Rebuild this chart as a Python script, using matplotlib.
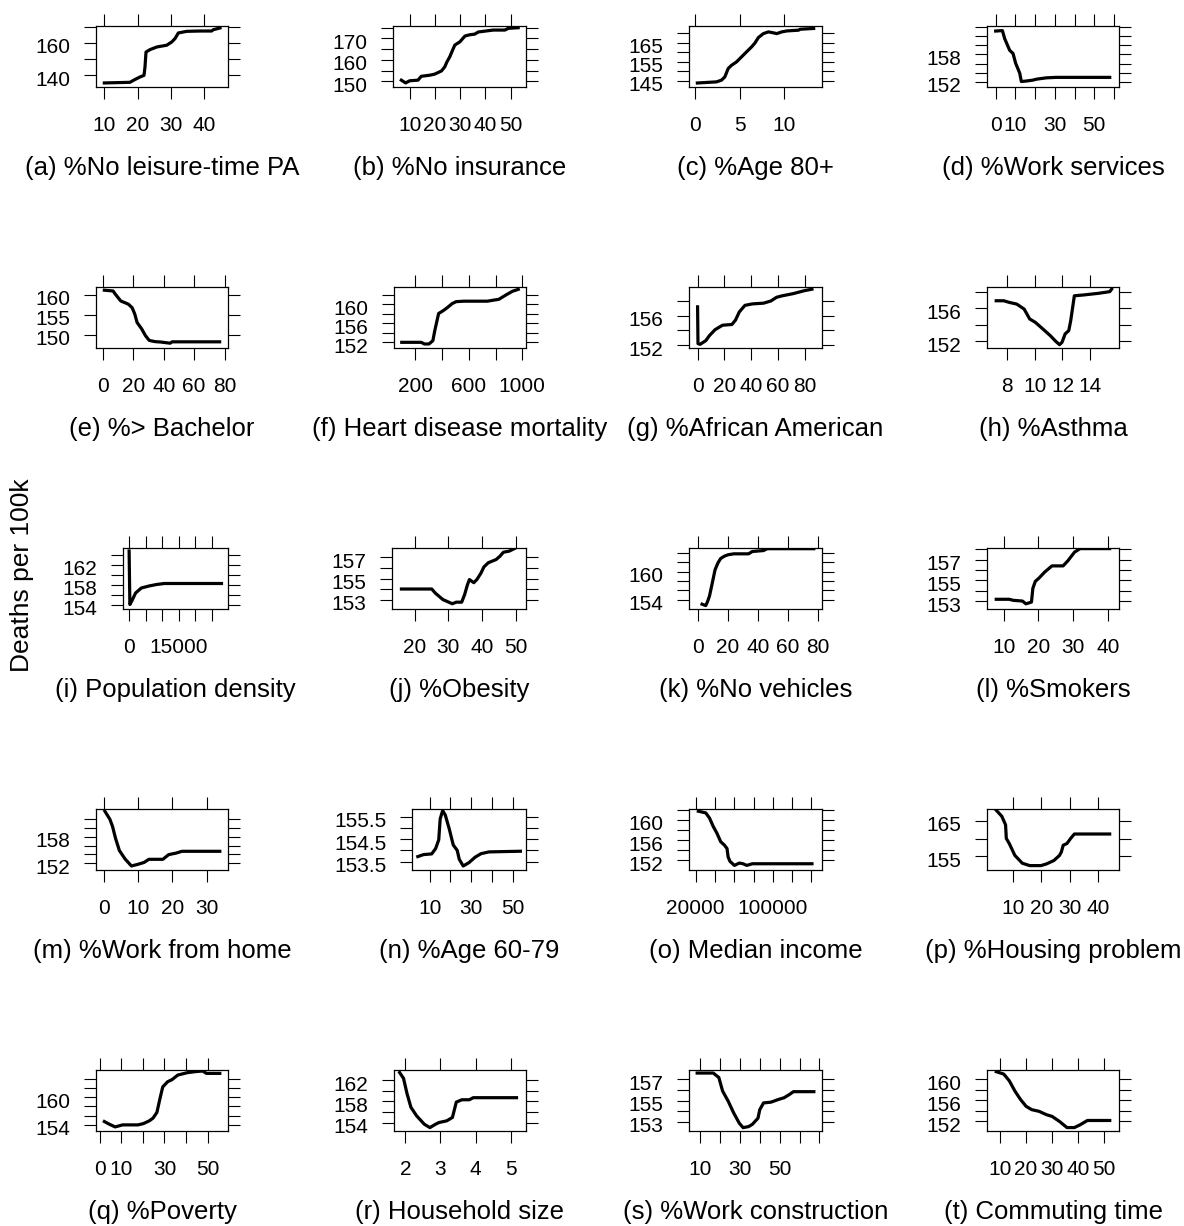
"""
Partial dependence curves (deaths per 100k) for 20 county-level predictors.
R base-graphics look: box, outward ticks on all four sides, labels left and bottom.
"""

import matplotlib
matplotlib.use("Agg")
import matplotlib.pyplot as plt
from matplotlib.transforms import ScaledTranslation

plt.rcParams["font.family"] = ["Liberation Sans", "DejaVu Sans"]

# ---------------------------------------------------------------- data
titles = [
    "(a) %No leisure-time PA", "(b) %No insurance", "(c) %Age 80+", "(d) %Work services",
    "(e) %> Bachelor", "(f) Heart disease mortality", "(g) %African American", "(h) %Asthma",
    "(i) Population density", "(j) %Obesity", "(k) %No vehicles", "(l) %Smokers",
    "(m) %Work from home", "(n) %Age 60-79", "(o) Median income", "(p) %Housing problem",
    "(q) %Poverty", "(r) Household size", "(s) %Work construction", "(t) Commuting time",
]

x_a = [10, 17.7, 18.7, 20.7, 21.9, 22.2, 22.5, 23.7, 25.7, 26.7, 28.7, 30.2, 31.2, 32.2, 34.7, 38.7, 42.2, 42.7, 44.7]
y_a = [135.3, 135.7, 136.9, 139.0, 140.0, 145.2, 154.4, 155.9, 157.5, 157.9, 158.6, 160.6, 162.7, 166.2, 167.2, 167.4, 167.4, 168.2, 169.3]

x_b = [6.7, 8.4, 10, 13.3, 14.6, 17.9, 19.9, 22.6, 23.9, 24.8, 25.9, 27.0, 27.9, 29.9, 31.9, 33.8, 35.8, 37.2, 39.8, 43.1, 47.7, 49.1, 53.0]
y_b = [150.5, 149.2, 150.2, 150.5, 152.3, 152.8, 153.3, 154.8, 156.7, 159.1, 161.4, 164.5, 166.9, 168.4, 171.1, 171.7, 172.0, 173.0, 173.4, 173.9, 173.9, 174.7, 175.0]

x_c = [0.3, 2.43, 2.99, 3.36, 3.73, 4.10, 4.66, 5.04, 5.78, 6.34, 6.72, 7.09, 7.65, 8.21, 8.77, 9.14, 9.70, 10.26, 11.57, 11.75, 13.25]
y_c = [143.9, 144.5, 145.4, 147.1, 151.5, 153.2, 155.0, 156.8, 160.3, 162.9, 165.0, 167.8, 169.9, 170.8, 170.3, 169.9, 170.8, 171.3, 171.7, 172.2, 172.6]

x_d = [0, 3.4, 4.6, 7.1, 8.8, 10.1, 12.2, 13.0, 15.5, 18.9, 20.6, 25.7, 30.7, 57.8]
y_d = [163.1, 163.2, 161.4, 158.9, 158.2, 156.1, 153.9, 152.1, 152.2, 152.4, 152.6, 152.9, 153.0, 153.0]

x_e = [1.0, 6.75, 8.0, 11.75, 16.75, 19.25, 21.0, 22.5, 25.5, 28.0, 30.5, 34.25, 38.0, 44.25, 45.5, 53.0, 76.75]
y_e = [161.2, 161.0, 160.3, 158.5, 157.7, 156.8, 155.2, 153.1, 151.5, 149.8, 148.6, 148.3, 148.2, 147.9, 148.25, 148.25, 148.25]

x_f = [98, 244, 267, 302, 331, 345, 374, 403, 433, 476, 505, 563, 738, 825, 883, 927, 970]
y_f = [152.0, 152.0, 151.65, 151.65, 152.35, 154.45, 158.1, 158.6, 159.2, 160.2, 160.6, 160.7, 160.7, 161.1, 162.1, 162.8, 163.2]

x_g = [0.0, 0.3, 1.9, 6.1, 8.9, 13.1, 18.6, 25.6, 28.3, 31.1, 35.3, 40.8, 49.2, 54.7, 58.9, 63.1, 71.4, 79.7, 85.3]
y_g = [157.2, 152.2, 152.1, 152.6, 153.3, 154.1, 154.7, 154.8, 155.4, 156.5, 157.4, 157.6, 157.7, 158.0, 158.5, 158.7, 159.0, 159.4, 159.6]

x_h = [7.25, 7.79, 8.19, 8.72, 9.25, 9.65, 10.05, 10.59, 11.12, 11.52, 11.79, 11.97, 12.19, 12.45, 12.59, 12.85, 13.52, 14.59, 15.39, 15.52]
y_h = [156.9, 156.9, 156.7, 156.5, 155.9, 154.7, 154.3, 153.5, 152.7, 152.0, 151.6, 151.9, 152.9, 153.3, 154.5, 157.5, 157.6, 157.8, 158.0, 158.3]

x_i = [0, 230, 806, 1958, 3686, 5990, 8294, 10598, 27878]
y_i = [164.7, 154.0, 154.7, 156.3, 157.3, 157.7, 158.0, 158.2, 158.2]

x_j = [16.1, 25.1, 26.2, 28.4, 31.2, 32.4, 34.0, 34.9, 35.7, 36.3, 37.6, 38.5, 39.7, 40.6, 41.9, 44.2, 45.3, 46.4, 48.1, 50.0]
y_j = [154.0, 154.0, 153.6, 153.0, 152.6, 152.75, 152.75, 153.5, 154.4, 154.9, 154.6, 154.9, 155.5, 156.1, 156.5, 156.8, 157.1, 157.5, 157.6, 157.9]

x_k = [2.5, 5.0, 6.25, 7.5, 8.75, 10.0, 11.25, 13.25, 15.0, 17.5, 20.0, 23.75, 33.75, 36.25, 43.75, 46.25, 77.5]
y_k = [153.0, 152.7, 153.6, 154.75, 156.6, 158.5, 160.4, 161.9, 162.8, 163.3, 163.6, 163.8, 163.8, 164.3, 164.5, 164.9, 164.9]

x_l = [7.86, 11.6, 12.7, 15.4, 16.4, 18.0, 18.4, 19.1, 20.2, 21.8, 23.9, 27.1, 28.5, 30.4, 32.0, 40.5]
y_l = [153.17, 153.17, 153.07, 153.0, 152.73, 152.9, 154.23, 154.9, 155.23, 155.8, 156.4, 156.4, 156.9, 157.73, 158.07, 158.07]

x_m = [0.2, 1.67, 2.44, 3.33, 4.44, 6.1, 8.0, 10.0, 11.7, 13.1, 17.2, 18.9, 21.1, 22.8, 33.9]
y_m = [163.7, 161.9, 160.3, 157.6, 154.9, 153.0, 151.4, 151.8, 152.2, 152.9, 152.9, 153.95, 154.3, 154.7, 154.7]

x_n = [4.3, 7.1, 11.0, 12.9, 14.4, 15.1, 16.3, 17.6, 19.5, 21.4, 23.3, 24.3, 26.2, 29.0, 31.9, 34.8, 38.6, 53.8]
y_n = [153.72, 153.81, 153.84, 154.08, 154.47, 155.41, 155.78, 155.57, 154.95, 154.24, 154.0, 153.6, 153.3, 153.45, 153.69, 153.85, 153.93, 153.96]

x_o = [22706, 30436, 34300, 38166, 42031, 45896, 49761, 52466, 53626, 55558, 60196, 65221, 69086, 72951, 78748, 101938, 140588]
y_o = [161.67, 161.33, 160.33, 158.67, 157.33, 155.67, 155.0, 154.33, 152.67, 151.8, 151.0, 151.47, 151.33, 151.0, 151.33, 151.33, 151.33]

x_p = [4.08, 6.05, 7.37, 7.63, 8.68, 10.66, 13.29, 15.92, 19.87, 21.84, 24.47, 26.45, 27.1, 27.76, 29.08, 30.39, 31.71, 44.2]
y_p = [167.95, 166.24, 163.86, 160.05, 158.62, 155.29, 153.1, 152.43, 152.43, 152.9, 153.86, 155.29, 156.24, 158.14, 158.62, 160.05, 161.29, 161.29]

x_q = [2.1, 4.4, 7.1, 10.6, 17.7, 20.3, 23.0, 24.7, 26.5, 27.9, 29.2, 31.4, 33.6, 36.2, 40.6, 44.2, 47.7, 49.5, 55.7]
y_q = [154.73, 154.15, 153.56, 154.0, 154.0, 154.29, 154.88, 155.46, 156.7, 159.63, 162.19, 163.29, 163.8, 164.76, 165.27, 165.49, 165.63, 165.12, 165.12]

x_r = [1.84, 1.95, 2.05, 2.16, 2.32, 2.54, 2.70, 2.86, 2.96, 3.18, 3.34, 3.45, 3.61, 3.82, 3.93, 5.16]
y_r = [163.42, 162.33, 159.45, 156.88, 155.28, 153.68, 153.04, 153.68, 154.0, 154.32, 154.96, 157.85, 158.29, 158.29, 158.68, 158.68]

x_s = [8.5, 16.6, 19.4, 21.3, 24.1, 26.9, 29.7, 31.6, 34.4, 36.3, 39.1, 40.0, 41.9, 45.6, 49.4, 52.2, 55.0, 56.9, 60.7, 67.2]
y_s = [157.61, 157.61, 157.19, 155.9, 154.94, 153.81, 152.84, 152.42, 152.52, 152.74, 153.32, 154.13, 154.77, 154.84, 155.1, 155.26, 155.58, 155.84, 155.84, 155.84]

x_t = [8.57, 11.43, 13.57, 15.71, 17.86, 20.0, 22.14, 25.0, 27.86, 30.0, 32.86, 35.71, 38.57, 40.71, 43.57, 52.14]
y_t = [161.42, 160.97, 159.69, 157.77, 156.17, 154.88, 154.24, 153.92, 153.28, 152.96, 152.0, 150.85, 150.85, 151.36, 152.19, 152.19]

# tick positions and the labels R kept (blank = label dropped)
xt_a, xl_a = [10, 20, 30, 40], ["10", "20", "30", "40"]
yt_a, yl_a = [140, 150, 160, 170], ["140", "", "160", ""]
xt_b, xl_b = [10, 20, 30, 40, 50], ["10", "20", "30", "40", "50"]
yt_b, yl_b = [150, 155, 160, 165, 170, 175], ["150", "", "160", "", "170", ""]
xt_c, xl_c = [0, 5, 10], ["0", "5", "10"]
yt_c, yl_c = [145, 150, 155, 160, 165, 170], ["145", "", "155", "", "165", ""]
xt_d, xl_d = [0, 10, 20, 30, 40, 50, 60], ["0", "10", "", "30", "", "50", ""]
yt_d, yl_d = [152, 154, 156, 158, 160, 162, 164], ["152", "", "", "158", "", "", ""]
xt_e, xl_e = [0, 20, 40, 60, 80], ["0", "20", "40", "60", "80"]
yt_e, yl_e = [150, 155, 160], ["150", "155", "160"]
xt_f, xl_f = [200, 400, 600, 800, 1000], ["200", "", "600", "", "1000"]
yt_f, yl_f = [152, 154, 156, 158, 160, 162], ["152", "", "156", "", "160", ""]
xt_g, xl_g = [0, 20, 40, 60, 80], ["0", "20", "40", "60", "80"]
yt_g, yl_g = [152, 154, 156, 158], ["152", "", "156", ""]
xt_h, xl_h = [8, 10, 12, 14], ["8", "10", "12", "14"]
yt_h, yl_h = [152, 154, 156, 158], ["152", "", "156", ""]
xt_i, xl_i = [0, 5000, 10000, 15000, 20000, 25000], ["0", "", "", "15000", "", ""]
yt_i, yl_i = [154, 156, 158, 160, 162, 164], ["154", "", "158", "", "162", ""]
xt_j, xl_j = [20, 30, 40, 50], ["20", "30", "40", "50"]
yt_j, yl_j = [153, 154, 155, 156, 157], ["153", "", "155", "", "157"]
xt_k, xl_k = [0, 20, 40, 60, 80], ["0", "20", "40", "60", "80"]
yt_k, yl_k = [154, 156, 158, 160, 162, 164], ["154", "", "", "160", "", ""]
xt_l, xl_l = [10, 20, 30, 40], ["10", "20", "30", "40"]
yt_l, yl_l = [153, 154, 155, 156, 157, 158], ["153", "", "155", "", "157", ""]
xt_m, xl_m = [0, 10, 20, 30], ["0", "10", "20", "30"]
yt_m, yl_m = [152, 154, 156, 158, 160, 162], ["152", "", "", "158", "", ""]
xt_n, xl_n = [10, 20, 30, 40, 50], ["10", "", "30", "", "50"]
yt_n, yl_n = [153.5, 154.0, 154.5, 155.0, 155.5], ["153.5", "", "154.5", "", "155.5"]
xt_o, xl_o = [20000, 40000, 60000, 80000, 100000, 120000, 140000], ["20000", "", "", "", "100000", "", ""]
yt_o, yl_o = [152, 154, 156, 158, 160, 162], ["152", "", "156", "", "160", ""]
xt_p, xl_p = [10, 20, 30, 40], ["10", "20", "30", "40"]
yt_p, yl_p = [155, 160, 165], ["155", "", "165"]
xt_q, xl_q = [0, 10, 20, 30, 40, 50], ["0", "10", "", "30", "", "50"]
yt_q, yl_q = [154, 156, 158, 160, 162, 164], ["154", "", "", "160", "", ""]
xt_r, xl_r = [2, 3, 4, 5], ["2", "3", "4", "5"]
yt_r, yl_r = [154, 156, 158, 160, 162], ["154", "", "158", "", "162"]
xt_s, xl_s = [10, 20, 30, 40, 50, 60, 70], ["10", "", "30", "", "50", "", ""]
yt_s, yl_s = [153, 154, 155, 156, 157], ["153", "", "155", "", "157"]
xt_t, xl_t = [10, 20, 30, 40, 50], ["10", "20", "30", "40", "50"]
yt_t, yl_t = [152, 154, 156, 158, 160], ["152", "", "156", "", "160"]

# axis ranges read from each box
xlim_all = [(7.5, 47.1), (3.4, 56.1), (-0.63, 14.18), (-4.4, 62.5),
            (-4.5, 82.25), (40, 1028), (-6.4, 92.8), (6.59, 16.05),
            (-1843, 29840), (13.3, 53.1), (-6.25, 83), (5.2, 43.2),
            (-2.4, 36.3), (1.5, 56.5), (13043, 151000), (0.8, 47.5),
            (-1.77, 59.5), (1.68, 5.43), (4.4, 71.3), (5.0, 55.7)]
ylim_all = [(132.8, 170.5), (147.3, 175.8), (141.8, 173.9), (150.9, 164.2),
            (146.7, 162.0), (150.8, 163.7), (151.6, 159.9), (151.2, 158.56),
            (153.1, 165.3), (152.1, 157.9), (151.97, 165.05), (152.23, 158.13),
            (150.5, 164.2), (153.12, 155.85), (150.1, 162.1), (151.2, 168.3),
            (152.68, 165.85), (152.4, 163.9), (152.1, 157.9), (150.2, 161.74)]

# ---------------------------------------------------------------- layout (pixels)
W, H = 1184, 1226
BOX_LEFT = [96, 393, 689, 987, 96, 394, 689, 987, 123, 392, 689, 987,
            96, 412, 689, 987, 96, 394, 689, 987]
BOX_RIGHT = [228, 526, 822, 1119]
ROW_TOP = [26, 287, 548, 809, 1070]
BOX_H = 61

series = [(x_a, y_a), (x_b, y_b), (x_c, y_c), (x_d, y_d), (x_e, y_e),
          (x_f, y_f), (x_g, y_g), (x_h, y_h), (x_i, y_i), (x_j, y_j),
          (x_k, y_k), (x_l, y_l), (x_m, y_m), (x_n, y_n), (x_o, y_o),
          (x_p, y_p), (x_q, y_q), (x_r, y_r), (x_s, y_s), (x_t, y_t)]
ticks = [(xt_a, xl_a, yt_a, yl_a), (xt_b, xl_b, yt_b, yl_b), (xt_c, xl_c, yt_c, yl_c),
         (xt_d, xl_d, yt_d, yl_d), (xt_e, xl_e, yt_e, yl_e), (xt_f, xl_f, yt_f, yl_f),
         (xt_g, xl_g, yt_g, yl_g), (xt_h, xl_h, yt_h, yl_h), (xt_i, xl_i, yt_i, yl_i),
         (xt_j, xl_j, yt_j, yl_j), (xt_k, xl_k, yt_k, yl_k), (xt_l, xl_l, yt_l, yl_l),
         (xt_m, xl_m, yt_m, yl_m), (xt_n, xl_n, yt_n, yl_n), (xt_o, xl_o, yt_o, yl_o),
         (xt_p, xl_p, yt_p, yl_p), (xt_q, xl_q, yt_q, yl_q), (xt_r, xl_r, yt_r, yl_r),
         (xt_s, xl_s, yt_s, yl_s), (xt_t, xl_t, yt_t, yl_t)]

fig = plt.figure(figsize=(W / 100, H / 100), dpi=100)
# R puts the y labels a touch below their ticks
y_shift = ScaledTranslation(0, -3 / 100, fig.dpi_scale_trans)

for i, ((xs, ys), (xt, xl, yt, yl)) in enumerate(zip(series, ticks)):
    row, col = divmod(i, 4)
    left, right = BOX_LEFT[i], BOX_RIGHT[col]
    top = ROW_TOP[row]
    ax = fig.add_axes([left / W, 1 - (top + BOX_H) / H, (right - left) / W, BOX_H / H])

    ax.plot(xs, ys, color="black", lw=2.3, solid_joinstyle="round")
    ax.set_xlim(*xlim_all[i])
    ax.set_ylim(*ylim_all[i])

    ax.set_xticks(xt)
    ax.set_xticklabels(xl)
    ax.set_yticks(yt)
    ax.set_yticklabels(yl)
    ax.tick_params(direction="out", length=8.6, width=0.8,
                   top=True, right=True, labelsize=15)
    ax.tick_params(axis="x", pad=12.5)
    ax.tick_params(axis="y", pad=10)
    for lab in ax.get_yticklabels():
        lab.set_transform(lab.get_transform() + y_shift)
    for sp in ax.spines.values():
        sp.set_linewidth(0.9)

    # panel caption under the box
    cx = (left + right) / 2 / W
    cy = 1 - (top + BOX_H + 81) / H
    fig.text(cx, cy, titles[i], ha="center", va="center", fontsize=18.5)

fig.text(22 / W, 1 - 575 / H, "Deaths per 100k", rotation=90,
         ha="center", va="center", fontsize=19)

fig.savefig("out.png", dpi=100)
plt.close(fig)
